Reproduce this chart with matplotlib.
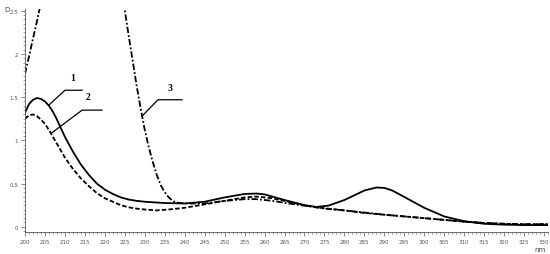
import numpy as np
import matplotlib
matplotlib.use("Agg")
import matplotlib.pyplot as plt
from matplotlib.ticker import MultipleLocator

# Curve 1 (solid)
wl1 = [200, 201, 202, 203, 204, 205, 206, 207, 208, 209, 210, 212, 214, 216, 218, 220,
       222, 224, 226, 228, 230, 235, 240, 245, 250, 255, 258, 260, 265, 270, 273, 276,
       280, 285, 288, 290, 292, 294, 296, 300, 305, 310, 315, 320, 325, 331]
d1 = [1.32, 1.42, 1.47, 1.49, 1.48, 1.45, 1.40, 1.33, 1.24, 1.14, 1.04, 0.87, 0.72, 0.60,
      0.50, 0.43, 0.38, 0.34, 0.315, 0.30, 0.29, 0.275, 0.27, 0.29, 0.34, 0.38, 0.385,
      0.375, 0.31, 0.25, 0.23, 0.245, 0.31, 0.42, 0.455, 0.45, 0.42, 0.37, 0.32, 0.22,
      0.12, 0.065, 0.035, 0.025, 0.02, 0.02]

# Curve 2 (dashed)
wl2 = [200, 201, 202, 203, 204, 205, 206, 207, 208, 209, 210, 212, 214, 216, 218, 220,
       222, 224, 226, 228, 230, 233, 236, 240, 245, 250, 255, 258, 262, 266, 270, 274,
       280, 285, 290, 295, 300, 305, 310, 315, 320, 325, 331]
d2 = [1.25, 1.29, 1.30, 1.28, 1.24, 1.19, 1.12, 1.04, 0.96, 0.88, 0.80, 0.67, 0.56, 0.47,
      0.39, 0.33, 0.29, 0.25, 0.225, 0.21, 0.20, 0.19, 0.20, 0.22, 0.26, 0.30, 0.34, 0.35,
      0.33, 0.29, 0.25, 0.22, 0.19, 0.16, 0.14, 0.12, 0.10, 0.08, 0.06, 0.045, 0.035,
      0.03, 0.03]

# Curve 3 (dash-dot), goes off scale between ~204 and ~225 nm
wl3 = [200, 201, 202, 203, 204, 214, 224.8, 225, 226, 227, 228, 229, 230, 231, 232, 233,
       234, 235, 236, 237, 238, 240, 245, 250, 255, 258, 262, 266, 270, 275, 280, 285,
       290, 295, 300, 305, 310, 315, 320, 325, 331]
d3 = [1.77, 1.97, 2.18, 2.38, 2.6, np.nan, 2.6, 2.5, 2.2, 1.91, 1.62, 1.36, 1.12, 0.92,
      0.75, 0.60, 0.48, 0.40, 0.34, 0.30, 0.28, 0.27, 0.27, 0.30, 0.32, 0.32, 0.30, 0.27,
      0.245, 0.21, 0.19, 0.165, 0.14, 0.12, 0.10, 0.08, 0.06, 0.045, 0.035, 0.03, 0.03]

# leader lines: (curve point, elbow, end), label position
leaders = {
    "1": ([206, 210, 214.3], [1.41, 1.58, 1.58], (212, 1.67)),
    "2": ([206.8, 214.3, 219.3], [1.09, 1.35, 1.35], (215.8, 1.45)),
    "3": ([229.3, 233.3, 239.3], [1.28, 1.47, 1.47], (236.3, 1.56)),
}

fig = plt.figure(figsize=(5.5, 2.55), dpi=100)
ax = fig.add_axes([0.0455, 0.0863, 0.9509, 0.8745])

ax.plot(wl1, d1, color="black", lw=1.3, linestyle="-")
ax.plot(wl2, d2, color="black", lw=1.3, linestyle=(0, (2.5, 1.2)))
ax.plot(wl3, d3, color="black", lw=1.3, linestyle=(0, (3.5, 1.2, 1, 1.2)))

for lab, (lx, ly, (tx, ty)) in leaders.items():
    ax.plot(lx, ly, color="black", lw=0.9)
    ax.text(tx, ty, lab, fontsize=7, fontweight="bold", family="Liberation Serif",
            ha="center", va="bottom")

ax.set_xlim(200, 331)
ax.set_ylim(-0.06, 2.52)
ax.spines["top"].set_visible(False)
ax.spines["right"].set_visible(False)
ax.spines["left"].set_color("#555555")
ax.spines["bottom"].set_color("#555555")
ax.spines["left"].set_linewidth(0.6)
ax.spines["bottom"].set_linewidth(0.6)

ax.xaxis.set_major_locator(MultipleLocator(5))
ax.xaxis.set_minor_locator(MultipleLocator(1))
ax.yaxis.set_major_locator(MultipleLocator(0.5))
ax.yaxis.set_minor_locator(MultipleLocator(0.05))
ax.set_yticks([0, 0.5, 1, 1.5, 2, 2.5])
ax.set_yticklabels(["0", "0.5", "1", "1.5", "2", "2.5"])
ax.tick_params(which="major", length=3, width=0.5, color="#555555",
               labelsize=4, labelcolor="#555555", pad=2)
ax.tick_params(which="minor", length=1.5, width=0.4, color="#555555")

fig.text(0.013, 0.96, "D", fontsize=5, color="#444444", ha="center", va="center")
fig.text(0.982, 0.02, "nm", fontsize=5, color="#444444", ha="center", va="center")

fig.savefig("out.png", dpi=100)
